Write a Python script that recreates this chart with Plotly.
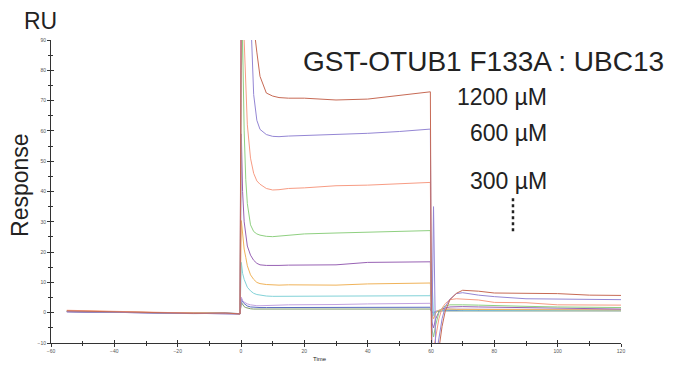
import plotly.graph_objects as go

# Time points (s)
time = [-55, -45, -35, -25, -15, -5, -0.3, 0.1, 0.5, 1, 1.5, 2, 3, 4, 5, 6, 8, 10, 12, 15, 20, 30, 40, 50, 59.8,
        60.2, 60.8, 61.5, 62.5, 63.5, 64.5, 66, 68, 70, 75, 80, 90, 100, 110, 120]

# Response (RU) per concentration
r_1200 = [0.6, 0.4, 0.2, 0.0, -0.2, -0.1, -0.4, 120, 150, 150, 140, 130, 115, 95, 86, 78, 72.5, 71.5, 71.0, 70.8, 70.8, 70.2, 70.5, 71.6, 72.9,
          -20, -25, -25, -12, -4.5, 0.5, 4.3, 6.4, 7.4, 7.1, 6.5, 6.4, 6.3, 5.8, 5.7]
r_600 = [0.4, 0.2, 0.1, -0.1, -0.3, -0.2, -0.3, 110, 140, 140, 130, 120, 100, 72, 63.5, 60.5, 58.8, 58.2, 58.1, 58.3, 58.5, 58.7, 59.2, 59.8, 60.6,
         -15, 35, -15, -8, -2, 2, 4.5, 6.3, 6.6, 5.8, 5.3, 4.6, 4.5, 4.4, 4.3]
r_300 = [0.8, 0.5, 0.3, 0.1, -0.1, -0.2, -0.3, 100, 110, 90, 75, 62, 51, 46, 43.5, 42.4, 41.0, 40.5, 40.6, 41.0, 41.2, 41.9, 42.1, 42.6, 43.0,
         -15, -12, -8, -2, 1.5, 3.0, 4.3, 4.6, 4.5, 4.2, 3.4, 3.3, 2.6, 2.5, 2.5]
r_150 = [0.5, 0.3, 0.2, 0.0, -0.2, -0.2, -0.3, 80, 90, 60, 44, 36, 29, 26.8, 26.0, 25.6, 25.2, 25.1, 25.3, 25.6, 26.0, 26.3, 26.5, 26.8, 27.1,
         -5, -8, -4, 0, 1.5, 2.2, 2.6, 2.7, 2.6, 2.5, 2.3, 2.1, 1.9, 1.8, 1.7]
r_75 = [0.3, 0.2, 0.0, -0.1, -0.3, -0.2, -0.4, 59, 40, 30, 25, 22, 19, 17.3, 16.3, 15.8, 15.6, 15.5, 15.6, 15.7, 15.8, 15.8, 16.6, 16.7, 16.8,
        -3, -5, -2, 0.3, 1.2, 1.6, 1.9, 2.0, 2.0, 1.9, 1.8, 1.6, 1.4, 1.3, 1.2]
r_37 = [0.7, 0.4, 0.2, 0.0, -0.1, -0.1, -0.3, 30.4, 25, 21, 18.3, 15.5, 12.5, 11.0, 10.0, 9.6, 9.3, 9.1, 9.1, 9.2, 9.2, 9.1, 9.5, 9.7, 9.8,
        0, -2, 0, 0.8, 1.1, 1.2, 1.2, 1.1, 1.1, 1.0, 1.0, 0.9, 0.9, 0.9, 0.9]
r_18 = [0.4, 0.3, 0.1, -0.1, -0.2, -0.2, -0.3, 16.6, 13, 11, 9.5, 8.4, 7.2, 6.4, 6.0, 5.8, 5.5, 5.4, 5.4, 5.5, 5.5, 5.5, 5.5, 5.6, 5.6,
        14, -1, 0.3, 0.7, 0.8, 0.9, 0.9, 0.9, 0.8, 0.8, 0.8, 0.8, 0.7, 0.7, 0.7]
r_9 = [0.5, 0.3, 0.1, 0.0, -0.2, -0.1, -0.3, 5.1, 4.0, 3.5, 3.2, 2.9, 2.6, 2.4, 2.3, 2.3, 2.3, 2.4, 2.5, 2.6, 2.6, 2.7, 2.9, 3.0, 3.1,
       0.5, 0, 0.5, 0.9, 1.1, 1.2, 1.2, 1.2, 1.2, 1.2, 1.1, 1.1, 1.0, 1.0, 1.0]
r_4 = [0.3, 0.2, 0.0, -0.1, -0.2, -0.2, -0.4, 4.7, 3.6, 3.0, 2.5, 2.2, 1.9, 1.8, 1.7, 1.7, 1.7, 1.7, 1.7, 1.7, 1.7, 1.7, 1.7, 1.8, 1.8,
       0.3, 0, 0.4, 0.6, 0.7, 0.7, 0.7, 0.7, 0.7, 0.7, 0.7, 0.7, 0.7, 0.7, 0.7]
r_2 = [0.4, 0.2, 0.1, 0.0, -0.2, -0.1, -0.3, 3.4, 2.6, 2.0, 1.7, 1.5, 1.3, 1.2, 1.2, 1.2, 1.2, 1.2, 1.2, 1.2, 1.2, 1.2, 1.2, 1.2, 1.2,
       0.2, -0.2, 0.3, 0.5, 0.6, 0.6, 0.6, 0.6, 0.6, 0.6, 0.6, 0.6, 0.6, 0.6, 0.6]

series = [r_2, r_4, r_9, r_18, r_37, r_75, r_150, r_300, r_600, r_1200]
colors = ["#7f9c6c", "#5a6cc0", "#c2a2e0", "#82d2d8", "#f0b35a", "#9862b4", "#8fd081", "#f79c84", "#9486d4", "#c76a55"]

x_ticks = [-60, -40, -20, 0, 20, 40, 60, 80, 100, 120]
y_ticks = [-10, 0, 10, 20, 30, 40, 50, 60, 70, 80, 90]

fig = go.Figure()
for vals, c in zip(series, colors):
    fig.add_trace(go.Scatter(x=time, y=vals, mode="lines", line=dict(color=c, width=1), showlegend=False))
# empty trace so the overlay axes (inner half of crossing ticks) are drawn
fig.add_trace(go.Scatter(x=[], y=[], xaxis="x2", yaxis="y2", showlegend=False, hoverinfo="skip"))

axis_font = dict(family="Liberation Sans, Arial, sans-serif", size=5, color="#555")
common = dict(ticklen=3, tickwidth=1, tickcolor="#333", showgrid=False, zeroline=False)
fig.update_layout(
    width=667, height=357,
    margin=dict(l=43, r=54, t=32, b=22),
    paper_bgcolor="white", plot_bgcolor="white",
    xaxis=dict(range=[-60, 120], tickvals=x_ticks, ticks="outside", showline=True, linecolor="#333", linewidth=1,
               tickfont=axis_font, minor=dict(dtick=10, ticks="outside", ticklen=2, tickcolor="#333"), **common),
    yaxis=dict(range=[-10, 90], tickvals=y_ticks, ticks="outside", showline=True, linecolor="#333", linewidth=1,
               tickfont=axis_font, minor=dict(dtick=5, ticks="outside", ticklen=2, tickcolor="#333"), **common),
    xaxis2=dict(range=[-60, 120], tickvals=x_ticks, ticks="inside", overlaying="x", anchor="y", side="bottom",
                showticklabels=False, showline=False,
                minor=dict(dtick=10, ticks="inside", ticklen=2, tickcolor="#333"), **common),
    yaxis2=dict(range=[-10, 90], tickvals=y_ticks, ticks="inside", overlaying="y", anchor="x", side="left",
                showticklabels=False, showline=False,
                minor=dict(dtick=5, ticks="inside", ticklen=2, tickcolor="#333"), **common),
)

big = "Liberation Sans, Arial, sans-serif"
ann = [
    dict(text="RU", x=-0.019, y=1.063, size=23),
    dict(text="Time", x=0.472, y=-0.052, size=6),
    dict(text="GST-OTUB1 F133A : UBC13", x=0.759, y=0.93, size=28),
]
for a in ann:
    fig.add_annotation(text=a["text"], x=a["x"], y=a["y"], xref="paper", yref="paper", showarrow=False,
                       font=dict(family=big, size=a["size"], color="#222"), xanchor="center", yanchor="middle")
fig.add_annotation(text="Response", x=-0.0535, y=0.52, xref="paper", yref="paper", showarrow=False, textangle=-90,
                   font=dict(family=big, size=23, color="#222"), xanchor="center", yanchor="middle")
for txt, yy in [("1200 µM", 0.812), ("600 µM", 0.693), ("300 µM", 0.535)]:
    fig.add_annotation(text=txt, x=0.874, y=yy, xref="paper", yref="paper", showarrow=False,
                       font=dict(family=big, size=23, color="#222"), xanchor="right", yanchor="middle")
fig.add_shape(type="line", xref="paper", yref="paper", x0=0.8105, x1=0.8105, y0=0.478, y1=0.363,
              line=dict(color="#222", width=2.5, dash="dot"))

fig.write_html("out.html")
